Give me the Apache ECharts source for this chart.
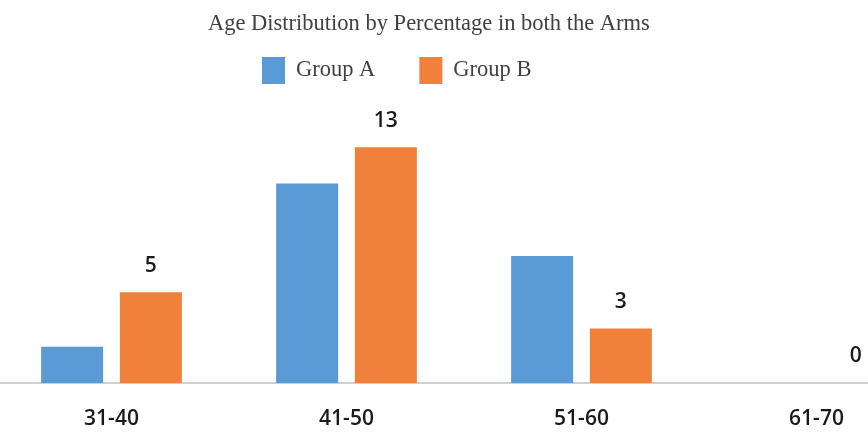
<!DOCTYPE html>
<html>
<head>
<meta charset="utf-8">
<script src="https://cdn.jsdelivr.net/npm/echarts@6/dist/echarts.min.js"></script>
<style>
  html, body { margin: 0; padding: 0; background: #fff; }
  #main { width: 868px; height: 436px; }
</style>
</head>
<body>
<div id="main"></div>
<script>
var myChart = echarts.init(document.getElementById('main'));

// age groups
var categories = ['31-40', '41-50', '51-60', '61-70'];
var groupA = [2, 11, 7, 0];
var groupB = [5, 13, 3, 0];

var serifFont = '"Liberation Serif", "DejaVu Serif", serif';

option = {
    animation: false,
    backgroundColor: '#fff',
    title: {
        text: 'Age Distribution by Percentage in both the Arms',
        left: 203,
        top: 8,
        textStyle: {
            fontFamily: serifFont,
            fontSize: 22.5,
            fontWeight: 'normal',
            color: '#404040'
        }
    },
    legend: {
        data: ['Group A', 'Group B'],
        top: 52,
        left: 257,
        itemWidth: 23,
        itemHeight: 27,
        itemGap: 44,
        icon: 'rect',
        textStyle: {
            fontFamily: serifFont,
            fontSize: 22.5,
            color: '#404040',
            padding: [0, 0, 0, 6]
        }
    },
    grid: {
        outerBoundsMode: 'none',
        left: -6,
        width: 940,
        top: 129,
        bottom: 53
    },
    xAxis: {
        type: 'category',
        data: categories,
        axisLine: { lineStyle: { color: '#d0d0d0', width: 2 } },
        axisTick: { show: false },
        axisLabel: {
            margin: 26,
            fontFamily: '"Open Sans", sans-serif',
            fontSize: 21,
            fontWeight: 600,
            color: '#1a1a1a'
        }
    },
    yAxis: {
        type: 'value',
        min: 0,
        max: 14,
        show: false,
        splitLine: { show: false }
    },
    series: [{
        name: 'Group A',
        type: 'bar',
        data: groupA,
        barWidth: 62,
        barGap: '27%',
        itemStyle: { color: '#5B9BD5' }
    }, {
        name: 'Group B',
        type: 'bar',
        data: groupB,
        barWidth: 62,
        itemStyle: { color: '#F0803A' },
        label: {
            show: true,
            position: 'top',
            distance: 16,
            fontFamily: '"Open Sans", sans-serif',
            fontSize: 21,
            fontWeight: 600,
            color: '#1a1a1a'
        }
    }]
};

myChart.setOption(option);
</script>
</body>
</html>
